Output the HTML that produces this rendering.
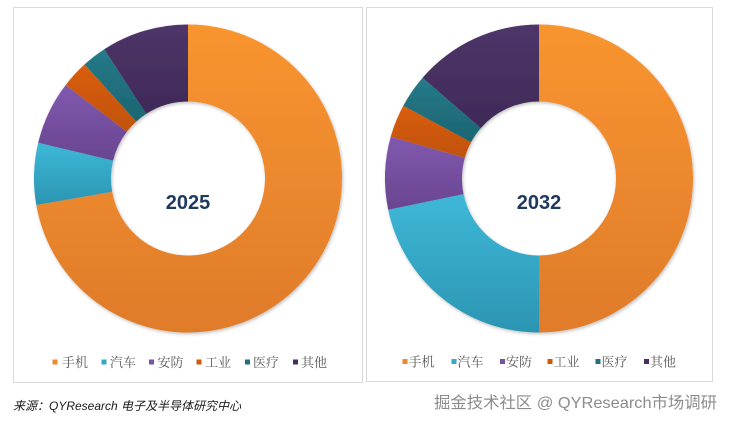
<!DOCTYPE html>
<html>
<head>
<meta charset="utf-8">
<style>
  html,body{margin:0;padding:0;background:#fff;}
  body{width:731px;height:423px;overflow:hidden;}
  svg{display:block;}
  .lg{font-family:"Liberation Serif","Noto Serif CJK SC",serif;font-size:13px;fill:#595959;}
  .yr{font-family:"Liberation Sans","Noto Sans CJK SC",sans-serif;font-size:20px;font-weight:bold;fill:#1F3A60;}
  .src{font-family:"Liberation Sans","Noto Sans CJK SC",sans-serif;font-size:12px;font-style:italic;fill:#1a1a1a;}
  .wm{font-family:"Liberation Sans","Noto Sans CJK SC",sans-serif;font-size:16px;fill:#8c8c8c;}
</style>
</head>
<body>
<svg width="731" height="423" viewBox="0 0 731 423" xmlns="http://www.w3.org/2000/svg">
  <defs>
    <linearGradient id="gOr" x1="0" y1="0" x2="0" y2="1"><stop offset="0" stop-color="#F9952F"/><stop offset="1" stop-color="#DF7B2B"/></linearGradient>
    <linearGradient id="gCy" x1="0" y1="0" x2="0" y2="1"><stop offset="0" stop-color="#3EB8D8"/><stop offset="1" stop-color="#2B95B2"/></linearGradient>
    <linearGradient id="gPu" x1="0" y1="0" x2="0" y2="1"><stop offset="0" stop-color="#8159AF"/><stop offset="1" stop-color="#694591"/></linearGradient>
    <linearGradient id="gRd" x1="0" y1="0" x2="0" y2="1"><stop offset="0" stop-color="#D95E0A"/><stop offset="1" stop-color="#C1520A"/></linearGradient>
    <linearGradient id="gTe" x1="0" y1="0" x2="0" y2="1"><stop offset="0" stop-color="#267A89"/><stop offset="1" stop-color="#1C6572"/></linearGradient>
    <linearGradient id="gDp" x1="0" y1="0" x2="0" y2="1"><stop offset="0" stop-color="#4E3569"/><stop offset="1" stop-color="#3F2A57"/></linearGradient>
    <filter id="sh" x="-10%" y="-10%" width="120%" height="120%">
      <feDropShadow dx="1" dy="1.5" stdDeviation="1.5" flood-color="#000" flood-opacity="0.25"/>
    </filter>
  </defs>

  <!-- panels -->
  <rect x="13.5" y="7.5" width="349" height="375" fill="#fff" stroke="#D9D9D9" stroke-width="1"/>
  <rect x="366.5" y="7.5" width="346" height="374" fill="#fff" stroke="#D9D9D9" stroke-width="1"/>

  <!-- Donut 2025 -->
  <g transform="translate(188,178.5)" filter="url(#sh)">
    <path fill="url(#gOr)" d="M0,-154 A154,154 0 1 1 -151.7,26.5 L-75.85,13.24 A77,77 0 1 0 0,-77 Z"/>
    <path fill="url(#gCy)" d="M-151.7,26.5 A154,154 0 0 1 -149.8,-35.7 L-74.9,-17.84 A77,77 0 0 0 -75.85,13.24 Z"/>
    <path fill="url(#gPu)" d="M-149.8,-35.7 A154,154 0 0 1 -122.3,-93.5 L-61.2,-46.8 A77,77 0 0 0 -74.9,-17.84 Z"/>
    <path fill="url(#gRd)" d="M-122.3,-93.5 A154,154 0 0 1 -103.4,-114.1 L-51.7,-57.0 A77,77 0 0 0 -61.2,-46.8 Z"/>
    <path fill="url(#gTe)" d="M-103.4,-114.1 A154,154 0 0 1 -83.7,-129.3 L-41.8,-64.6 A77,77 0 0 0 -51.7,-57.0 Z"/>
    <path fill="url(#gDp)" d="M-83.7,-129.3 A154,154 0 0 1 0,-154 L0,-77 A77,77 0 0 0 -41.8,-64.6 Z"/>
  </g>
  <text class="yr" x="188" y="209" text-anchor="middle">2025</text>

  <!-- Donut 2032 -->
  <g transform="translate(539,178.5)" filter="url(#sh)">
    <path fill="url(#gOr)" d="M0,-154 A154,154 0 0 1 0,154 L0,77 A77,77 0 0 0 0,-77 Z"/>
    <path fill="url(#gCy)" d="M0,154 A154,154 0 0 1 -150.8,31.2 L-75.4,15.6 A77,77 0 0 0 0,77 Z"/>
    <path fill="url(#gPu)" d="M-150.8,31.2 A154,154 0 0 1 -148.3,-41.7 L-74.1,-20.8 A77,77 0 0 0 -75.4,15.6 Z"/>
    <path fill="url(#gRd)" d="M-148.3,-41.7 A154,154 0 0 1 -135.7,-72.8 L-67.9,-36.4 A77,77 0 0 0 -74.1,-20.8 Z"/>
    <path fill="url(#gTe)" d="M-135.7,-72.8 A154,154 0 0 1 -116.4,-100.8 L-58.2,-50.4 A77,77 0 0 0 -67.9,-36.4 Z"/>
    <path fill="url(#gDp)" d="M-116.4,-100.8 A154,154 0 0 1 0,-154 L0,-77 A77,77 0 0 0 -58.2,-50.4 Z"/>
  </g>
  <text class="yr" x="539" y="209" text-anchor="middle">2032</text>

  <!-- Legend 1 -->
  <rect x="52.5" y="359.5" width="5" height="5" fill="#F0892C"/>
  <text class="lg" x="62" y="367">手机</text>
  <rect x="101.5" y="359.5" width="5" height="5" fill="#35A9C9"/>
  <text class="lg" x="110" y="367">汽车</text>
  <rect x="149" y="359.5" width="5" height="5" fill="#7752A1"/>
  <text class="lg" x="157.5" y="367">安防</text>
  <rect x="196.5" y="359.5" width="5" height="5" fill="#CF590A"/>
  <text class="lg" x="205" y="367">工业</text>
  <rect x="245" y="359.5" width="5" height="5" fill="#22707E"/>
  <text class="lg" x="253" y="367">医疗</text>
  <rect x="293" y="359.5" width="5" height="5" fill="#46305F"/>
  <text class="lg" x="301" y="367">其他</text>

  <!-- Legend 2 -->
  <rect x="402.5" y="359" width="5" height="5" fill="#F0892C"/>
  <text class="lg" x="408.5" y="366.5">手机</text>
  <rect x="451.5" y="359" width="5" height="5" fill="#35A9C9"/>
  <text class="lg" x="457.5" y="366.5">汽车</text>
  <rect x="500" y="359" width="5" height="5" fill="#7752A1"/>
  <text class="lg" x="506" y="366.5">安防</text>
  <rect x="547.5" y="359" width="5" height="5" fill="#CF590A"/>
  <text class="lg" x="553.5" y="366.5">工业</text>
  <rect x="595.5" y="359" width="5" height="5" fill="#22707E"/>
  <text class="lg" x="601.5" y="366.5">医疗</text>
  <rect x="644" y="359" width="5" height="5" fill="#46305F"/>
  <text class="lg" x="650" y="366.5">其他</text>

  <!-- Source -->
  <text class="src" x="13" y="410">来源：QYResearch 电子及半导体研究中心</text>

  <!-- Watermark -->
  <text class="wm" x="717" y="408" text-anchor="end" stroke="#ffffff" stroke-width="2" paint-order="stroke" textLength="283" lengthAdjust="spacingAndGlyphs">掘金技术社区 @ QYResearch市场调研</text>
</svg>
</body>
</html>
